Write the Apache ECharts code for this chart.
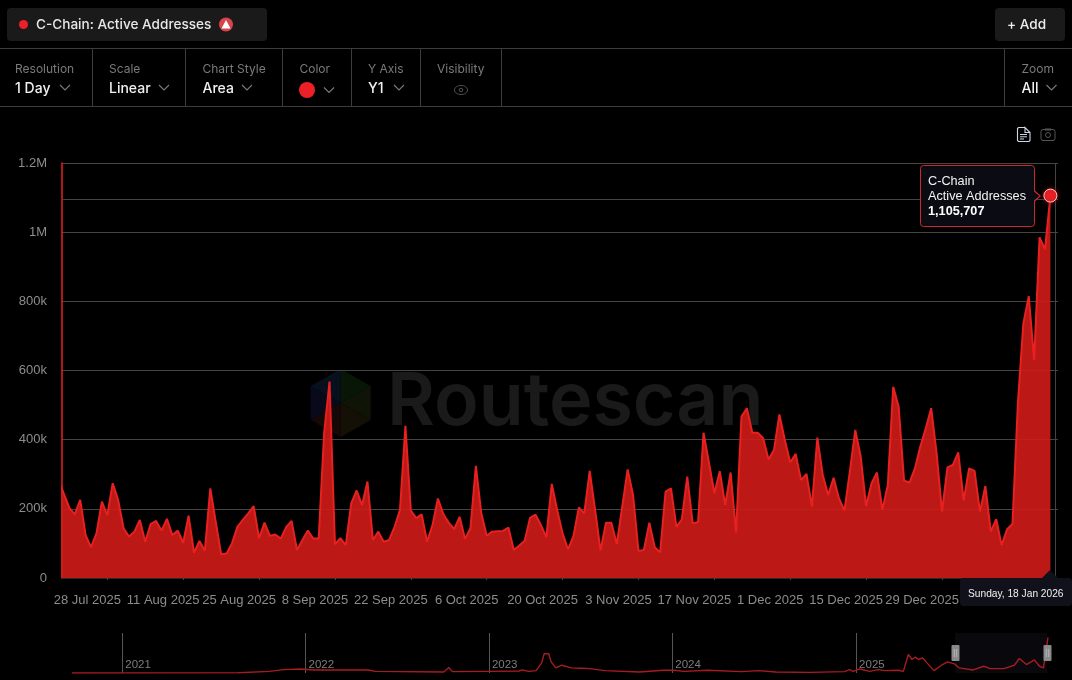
<!DOCTYPE html>
<html>
<head>
<meta charset="utf-8">
<style>html,body{margin:0;padding:0;background:#000;}#c{width:1072px;height:680px;}</style>
<script src="https://cdn.jsdelivr.net/npm/echarts@6/dist/echarts.min.js"></script>
</head>
<body>
<div id="c"></div>
<script>
// Daily values from 19 Jul 2025 (first one is clipped by the plot edge) to 18 Jan 2026
const firstDate = '2025-07-19';
const dailyActiveAddresses = [
283000,243000,203000,184000,226000,124000,89000,129000,221000,182000,
274000,226000,144000,120000,134000,168000,105000,156000,165000,137000,
171000,124000,137000,102000,180000,73000,107000,79000,259000,163000,
69000,71000,100000,148000,168000,187000,208000,115000,160000,122000,
126000,114000,147000,165000,81000,110000,137000,114000,114000,418000,
568000,98000,115000,95000,216000,253000,211000,279000,110000,134000,
105000,110000,148000,197000,440000,195000,173000,184000,105000,153000,
230000,185000,160000,141000,177000,113000,144000,324000,187000,122000,
134000,135000,136000,146000,81000,94000,108000,174000,183000,153000,
118000,272000,197000,129000,83000,121000,204000,187000,310000,197000,
79000,160000,160000,98000,206000,314000,240000,78000,81000,160000,
89000,74000,250000,259000,148000,170000,293000,158000,162000,420000,
334000,245000,309000,211000,305000,131000,467000,491000,420000,420000,
404000,343000,370000,473000,399000,334000,359000,283000,301000,206000,
406000,298000,240000,290000,230000,195000,308000,428000,351000,208000,
274000,305000,197000,269000,553000,495000,281000,276000,317000,380000,
433000,491000,361000,192000,320000,327000,363000,224000,317000,310000,
192000,266000,134000,170000,95000,141000,156000,505000,735000,815000,
630000,985000,950000,1105707
];
const yTickValues = [0,200000,400000,600000,800000,1000000,1200000];
const yTickLabels = ['0','200k','400k','600k','800k','1M','1.2M'];
const xTickDates = ['2025-07-28','2025-08-11','2025-08-25','2025-09-08','2025-09-22','2025-10-06','2025-10-20','2025-11-03','2025-11-17','2025-12-01','2025-12-15','2025-12-29'];
const xTickLabels = ['28 Jul 2025','11 Aug 2025','25 Aug 2025','8 Sep 2025','22 Sep 2025','6 Oct 2025','20 Oct 2025','3 Nov 2025','17 Nov 2025','1 Dec 2025','15 Dec 2025','29 Dec 2025'];
// Overview strip
const overviewDates = ['2020-09-23','2021-08-20','2021-10-21','2021-11-18','2021-12-22','2022-01-19','2022-05-06','2022-05-20','2022-10-03','2022-10-13','2022-10-20','2023-01-01','2023-03-02','2023-03-08','2023-03-22','2023-04-05','2023-04-16','2023-04-21','2023-04-30','2023-05-05','2023-05-14','2023-05-26','2023-06-14','2023-07-04','2023-07-21','2023-08-20','2023-10-28','2023-12-14','2024-01-04','2024-01-24','2024-03-11','2024-05-18','2024-06-21','2024-07-25','2024-10-01','2024-12-09','2024-12-19','2024-12-26','2025-01-08','2025-01-28','2025-02-14','2025-02-28','2025-03-25','2025-04-05','2025-04-15','2025-04-22','2025-04-29','2025-05-05','2025-05-13','2025-05-22','2025-06-05','2025-06-22','2025-07-02','2025-07-16','2025-07-25','2025-08-22','2025-09-12','2025-09-25','2025-10-22','2025-11-12','2025-11-22','2025-12-06','2025-12-22','2026-01-01','2026-01-09','2026-01-18'];
const overviewValues = [2000,10000,52000,105000,126000,95000,95000,52000,31000,170000,42000,52000,63000,95000,52000,74000,315000,600000,600000,347000,158000,242000,158000,147000,137000,74000,31000,84000,84000,52000,84000,42000,74000,31000,21000,42000,105000,52000,126000,52000,105000,74000,84000,52000,578000,420000,494000,420000,473000,315000,74000,263000,347000,284000,158000,95000,210000,137000,137000,242000,452000,263000,410000,210000,158000,1105707];
const overviewYears = ['2021-01-01','2022-01-01','2023-01-01','2024-01-01','2025-01-01','2026-01-01'];
const overviewYearLabels = ['2021','2022','2023','2024','2025',''];
const controls = [
  {title:'Resolution', value:'1 Day', x:15, chevron:65},
  {title:'Scale', value:'Linear', x:109, chevron:164},
  {title:'Chart Style', value:'Area', x:202.5, chevron:247},
  {title:'Color', value:'', x:299.5, chevron:329},
  {title:'Y Axis', value:'Y1', x:368, chevron:399},
  {title:'Visibility', value:'', x:437, chevron:null},
  {title:'Zoom', value:'All', x:1021.5, chevron:1051.5}
];
const dividers = [92.5,185.5,282.5,351.5,420.5,501.5,1004.5];

const RED='#e8201f', GREY='#8c8c8c', UI='Inter, "Noto Sans", sans-serif', CHART='"Liberation Sans", Arial, sans-serif';
const DAY=86400000;
const ms=s=>{const p=s.split('-');return Date.UTC(+p[0],+p[1]-1,+p[2]);};
const t0=ms(firstDate);
const series = dailyActiveAddresses.map((v,i)=>[t0+i*DAY,v]);
const last = series[series.length-1];
const ref28=ms(xTickDates[0]);
const mainMin=ref28-8.358*DAY, mainMax=ref28+175.4*DAY;
const xTicks=xTickDates.map(ms);
const yearTicks=overviewYears.map(ms);

const g=[];
function line(x1,y1,x2,y2,c,w){g.push({type:'line',silent:true,z:1,shape:{x1,y1,x2,y2},style:{stroke:c,lineWidth:w||1}});}
function text(x,y,s,o){g.push({type:'text',silent:true,z:o.z||1,x,y,style:Object.assign({text:s,fill:'#fff',font:'13px '+UI,verticalAlign:'middle'},o)});}
function rect(x,y,w,h,r,fill,stroke,z){g.push({type:'rect',silent:true,z:z||1,shape:{x,y,width:w,height:h,r},style:{fill,stroke:stroke||null,lineWidth:1}});}
function circle(cx,cy,r,fill,stroke,z){g.push({type:'circle',silent:true,z:z||1,shape:{cx,cy,r},style:{fill,stroke:stroke||null}});}
function chevron(cx,cy){g.push({type:'polyline',silent:true,z:1,shape:{points:[[cx-5,cy-2.5],[cx,cy+2.5],[cx+5,cy-2.5]]},style:{stroke:'#777',lineWidth:1.2,fill:null}});}
function poly(points,fill,z){g.push({type:'polygon',silent:true,z:z||0,shape:{points},style:{fill}});}

// header
rect(7,8,260,33,4,'#1a1a1a');
circle(23.5,24.5,4.5,'#ee2027');
text(36,24.5,'C-Chain: Active Addresses',{font:'500 13.6px '+UI,fill:'#e8e8e8'});
circle(226,24.5,7,'#d9444a');
poly([[226,20],[230.5,28.5],[221.5,28.5]],'#fff',2);
rect(995,8,70,33,4,'#1a1a1a');
text(1007,24.5,'+ Add',{font:'500 13.6px '+UI,fill:'#eee'});
line(0,48.5,1072,48.5,'#3c3c3c');
line(0,106.5,1072,106.5,'#3c3c3c');
dividers.forEach(x=>line(x,49,x,106,'#3c3c3c'));
controls.forEach(c=>{
  text(c.x,69,c.title,{font:'12px '+UI,fill:'#7a7a7a'});
  if(c.value) text(c.x,88.5,c.value,{font:'500 14px '+UI,fill:'#f0f0f0'});
  if(c.chevron) chevron(c.chevron,c.title==='Color'?90:87.5);
});
circle(307,90,8,'#ee2027');
g.push({type:'ellipse',silent:true,z:1,shape:{cx:461,cy:90,rx:6.5,ry:4.5},style:{stroke:'#555',fill:null}});
circle(461,90,1.8,null,'#555');
// toolbar icons
g.push({type:'polyline',silent:true,z:1,shape:{points:[[1025,127.5],[1018.5,127.5],[1017.5,128.5],[1017.5,140.5],[1018.5,141.5],[1029,141.5],[1030,140.5],[1030,132.5],[1025,127.5],[1025,132.5],[1030,132.5]]},style:{stroke:'#cfd6e6',lineWidth:1.1,fill:null}});
line(1020,134.5,1027,134.5,'#cfd6e6');line(1020,136.8,1027,136.8,'#cfd6e6');line(1020,139,1024,139,'#cfd6e6');
rect(1041,129.5,14,11,2,null,'#555');
circle(1048,135,2.5,null,'#555');
line(1045,129.5,1051,129.5,'#555',2);

// watermark
const hx=340.7,hy=403,hr=34,hw=30;
const hex=[[hx,hy-hr],[hx+hw,hy-hr/2],[hx+hw,hy+hr/2],[hx,hy+hr],[hx-hw,hy+hr/2],[hx-hw,hy-hr/2]];
const hexCols=['#081608','#0f1406','#151005','#170808','#09091c','#07101c'];
hex.forEach((p,i)=>poly([[hx,hy],p,hex[(i+1)%6]],hexCols[i],0));
text(387,403,'Routescan',{font:'600 73.5px '+UI,fill:'#1a1a1a',z:0});

// tooltip boxes
rect(920.5,165.5,114,61,3,'#0b0b14','#c9282d',10);
poly([[1034.5,190],[1041,196],[1034.5,202]],'#c9282d',10);
poly([[1034,191.5],[1039.3,196],[1034,200.5]],'#0b0b14',11);
text(928,181.5,'C-Chain',{font:'12.7px '+CHART,fill:'#f2f2f2',z:11});
text(928,196.5,'Active Addresses',{font:'12.7px '+CHART,fill:'#f2f2f2',z:11});
text(928,211.5,'1,105,707',{font:'bold 12.7px '+CHART,fill:'#fff',z:11});
line(1055.5,163,1055.5,576,'#444');
poly([[1042,578],[1050,570],[1058,578]],'#10111a',10);
rect(960,578,112,28,4,'#10111a',null,10);
text(968,594,'Sunday, 18 Jan 2026',{font:'10.2px '+CHART,fill:'#f0f0f0',z:11});

// overview window and handles
rect(955,633,92,40,0,'#08080d',null,0);
[955.5,1047.5].forEach(x=>{
  rect(x-4,645,8,16,1,'#8a8a8a',null,12);
  line(x-1.2,649,x-1.2,657,'#b5b5b5');line(x+1.2,649,x+1.2,657,'#b5b5b5');
  g[g.length-1].z=13;g[g.length-2].z=13;
});

const option={
  backgroundColor:'#000',
  animation:false,
  graphic:g,
  grid:[
    {left:62,top:163,width:996,height:415},
    {left:72,top:633,width:976,height:40}
  ],
  xAxis:[
    {type:'value',gridIndex:0,min:mainMin,max:mainMax,
     axisLine:{show:true,lineStyle:{color:'#2a2a2a'}},
     axisTick:{show:true,length:2,customValues:xTicks,lineStyle:{color:'#444'}},
     splitLine:{show:false},
     axisLabel:{show:true,customValues:xTicks,hideOverlap:false,showMinLabel:true,showMaxLabel:true,color:GREY,fontFamily:CHART,fontSize:13,margin:16,padding:[0,40,0,0],
       formatter:v=>xTickLabels[xTicks.indexOf(v)]||''}},
    {type:'value',gridIndex:1,min:ms(overviewDates[0]),max:ms('2026-01-18'),
     axisLine:{show:false},
     axisTick:{show:true,inside:true,length:40,customValues:yearTicks,lineStyle:{color:'#555'}},
     splitLine:{show:false},
     axisLabel:{show:true,inside:true,align:'left',customValues:yearTicks,color:'#7d7d7d',fontFamily:CHART,fontSize:11.5,margin:2,padding:[0,0,0,3],
       formatter:v=>overviewYearLabels[yearTicks.indexOf(v)]||''}}
  ],
  yAxis:[
    {type:'value',gridIndex:0,min:0,max:1200000,interval:200000,
     axisLine:{show:true,lineStyle:{color:RED,width:1.5}},
     axisTick:{show:false},
     splitLine:{show:true,lineStyle:{color:'#444',width:1}},
     axisLabel:{color:GREY,fontFamily:CHART,fontSize:13,margin:15,padding:[2,0,0,0],
       formatter:v=>yTickLabels[yTickValues.indexOf(v)]}},
    {type:'value',gridIndex:1,min:0,max:1245000,show:false,splitLine:{show:false}}
  ],
  series:[
    {type:'line',xAxisIndex:0,yAxisIndex:0,data:series,showSymbol:false,symbol:'none',smooth:false,clip:true,z:3,
     lineStyle:{color:RED,width:2},
     areaStyle:{color:'#d01c18',opacity:0.9},
     markLine:{silent:true,symbol:'none',label:{show:false},animation:false,lineStyle:{color:'#444',type:'solid',width:1},data:[{yAxis:1096000}]},
     markPoint:{silent:true,animation:false,symbol:'circle',symbolSize:13,label:{show:false},
       itemStyle:{color:'#ee2027',borderColor:'#f6c6c6',borderWidth:1,shadowBlur:4,shadowColor:'#a01515'},
       data:[{coord:last}]}},
    {type:'line',xAxisIndex:1,yAxisIndex:1,data:overviewDates.map((d,i)=>[ms(d),overviewValues[i]]),showSymbol:false,symbol:'none',z:3,
     lineStyle:{color:'#a81c20',width:1.4}}
  ]
};
const chart=echarts.init(document.getElementById('c'),null,{renderer:'canvas'});
chart.setOption(option);
</script>
</body>
</html>
